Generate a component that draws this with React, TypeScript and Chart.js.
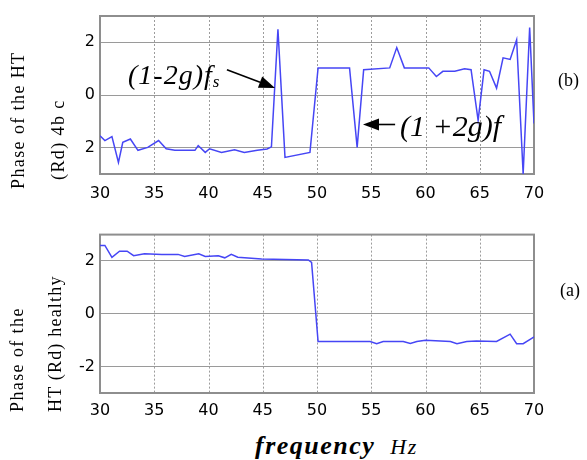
import React, { useEffect, useRef } from "react";
import { Chart, registerables } from "chart.js";

Chart.register(...registerables);

// ---- data ----
const xTickValues = [30, 35, 40, 45, 50, 55, 60, 65, 70];
const yTickValues = [-2, 0, 2];
const yTickLabelsB = ["2", "0", "2"]; // as printed in the reference (minus sign lost)
const yTickLabelsA = ["-2", "0", "2"];

// (b) faulty: phase of HT (Rd), 4 broken bars
const freqB = [
  30, 30.45, 31.1, 31.7, 32.1, 32.8, 33.5, 34.4, 35.4, 36.1,
  36.9, 38.75, 39.05, 39.7, 40.1, 41.2, 42.4, 43.3, 44.5, 45.4,
  45.8, 46.4, 47.05, 49.35, 50.1, 53.0, 53.7, 54.3, 56.7, 57.35,
  58.05, 60.3, 61.0, 61.6, 62.7, 63.6, 64.2, 64.85, 65.4, 65.9,
  66.55, 67.15, 67.8, 68.4, 69.0, 69.6, 70,
];
const phaseB = [
  -1.55, -1.73, -1.58, -2.56, -1.8, -1.67, -2.1, -1.99, -1.73, -2.04,
  -2.1, -2.1, -1.92, -2.18, -2.04, -2.18, -2.08, -2.18, -2.1, -2.05,
  -1.97, 2.5, -2.37, -2.18, 1.03, 1.03, -1.99, 0.96, 1.03, 1.8,
  1.03, 1.03, 0.7, 0.9, 0.9, 1.0, 0.96, -0.96, 0.96, 0.9,
  0.26, 1.41, 1.35, 2.1, -3.0, 2.56, -1.08,
];

// (a) healthy: phase of HT (Rd)
const freqA = [
  30, 30.45, 31.1, 31.8, 32.5, 33.1, 34.1, 35.7, 37.2, 37.8,
  39.1, 39.7, 40.9, 41.5, 42.1, 42.7, 44.9, 49.2, 49.5, 50.1,
  54.9, 55.5, 56.1, 57.95, 58.6, 59.2, 60.0, 62.3, 62.9, 63.8,
  64.7, 66.55, 67.8, 68.4, 69.0, 69.9, 70,
];
const phaseA = [
  2.59, 2.59, 2.14, 2.37, 2.37, 2.2, 2.27, 2.25, 2.25, 2.17,
  2.27, 2.17, 2.2, 2.12, 2.25, 2.14, 2.08, 2.04, 1.95, -1.05,
  -1.05, -1.13, -1.05, -1.05, -1.12, -1.05, -1.0, -1.05, -1.13, -1.05,
  -1.03, -1.05, -0.77, -1.13, -1.13, -0.9, -0.88,
];

// annotation arrows for (b), in data coordinates
const arrowsB = [
  { fromX: 41.7, fromY: 0.96, toX: 46.13, toY: 0.27 },
  { fromX: 57.2, fromY: -1.12, toX: 54.24, toY: -1.12 },
];

const LINE_COLOR = "rgb(70,70,245)";
const TICK_FONT = { family: "'DejaVu Sans', sans-serif", size: 16 };

// frame + dotted vertical grid (matlab style)
const framePlugin = {
  id: "frame",
  beforeDatasetsDraw(chart: any) {
    const { ctx, chartArea: a } = chart;
    const xs = chart.scales.x;
    ctx.save();
    ctx.strokeStyle = "#9c9c9c";
    ctx.lineWidth = 1;
    ctx.setLineDash([2, 2]);
    for (const v of xTickValues) {
      const px = Math.round(xs.getPixelForValue(v)) + 0.5;
      if (px <= a.left + 2 || px >= a.right - 2) continue;
      ctx.beginPath();
      ctx.moveTo(px, a.top);
      ctx.lineTo(px, a.bottom);
      ctx.stroke();
    }
    ctx.setLineDash([]);
    ctx.strokeStyle = "#8e8e8e";
    ctx.lineWidth = 2;
    ctx.strokeRect(a.left, a.top, a.right - a.left, a.bottom - a.top);
    ctx.restore();
  },
};

const arrowPlugin = {
  id: "arrows",
  afterDatasetsDraw(chart: any, _args: any, opts: any) {
    const list = (opts && opts.list) || [];
    const { ctx } = chart;
    const xs = chart.scales.x;
    const ys = chart.scales.y;
    ctx.save();
    ctx.strokeStyle = "#000";
    ctx.fillStyle = "#000";
    ctx.lineWidth = 1.6;
    for (const a of list) {
      const x1 = xs.getPixelForValue(a.fromX);
      const y1 = ys.getPixelForValue(a.fromY);
      const x2 = xs.getPixelForValue(a.toX);
      const y2 = ys.getPixelForValue(a.toY);
      const ang = Math.atan2(y2 - y1, x2 - x1);
      const hl = 16;
      const hw = 6;
      const bx = x2 - hl * Math.cos(ang);
      const by = y2 - hl * Math.sin(ang);
      ctx.beginPath();
      ctx.moveTo(x1, y1);
      ctx.lineTo(bx, by);
      ctx.stroke();
      ctx.beginPath();
      ctx.moveTo(x2, y2);
      ctx.lineTo(bx + hw * Math.sin(ang), by - hw * Math.cos(ang));
      ctx.lineTo(bx - hw * Math.sin(ang), by + hw * Math.cos(ang));
      ctx.closePath();
      ctx.fill();
    }
    ctx.restore();
  },
};

function buildConfig(freq: number[], phase: number[], yLabels: string[], topPad: number, tickPad: number, arrows: any[]) {
  return {
    type: "line" as const,
    data: {
      datasets: [
        {
          data: freq.map((x, i) => ({ x, y: phase[i] })),
          borderColor: LINE_COLOR,
          borderWidth: 1.5,
          pointRadius: 0,
          tension: 0,
          fill: false,
        },
      ],
    },
    options: {
      animation: false as const,
      responsive: false,
      events: [],
      layout: { padding: { left: 0, right: 53, top: topPad, bottom: 0 } },
      plugins: {
        legend: { display: false },
        tooltip: { enabled: false },
        arrows: { list: arrows },
      },
      scales: {
        x: {
          type: "linear" as const,
          min: 30,
          max: 70,
          afterBuildTicks: (s: any) => {
            s.ticks = xTickValues.map((v) => ({ value: v }));
          },
          afterFit: (s: any) => {
            s.height = 36;
          },
          grid: { display: false, drawTicks: false },
          border: { display: false },
          ticks: {
            color: "#000",
            font: TICK_FONT,
            padding: tickPad,
            maxRotation: 0,
            autoSkip: false,
            callback: (v: any) => String(v),
          },
        },
        y: {
          type: "linear" as const,
          min: -3,
          max: 3,
          afterBuildTicks: (s: any) => {
            s.ticks = yTickValues.map((v) => ({ value: v }));
          },
          afterFit: (s: any) => {
            s.width = 100;
          },
          grid: { color: "#9a9a9a", lineWidth: 1, drawTicks: false },
          border: { display: false },
          ticks: {
            color: "#000",
            font: TICK_FONT,
            padding: 5,
            callback: (v: any) => yLabels[yTickValues.indexOf(Number(v))],
          },
        },
      },
    },
    plugins: [framePlugin, arrowPlugin],
  };
}

function PhaseChart(props: { freq: number[]; phase: number[]; yLabels: string[]; topPad: number; tickPad: number; height: number; arrows: any[] }) {
  const ref = useRef<HTMLCanvasElement | null>(null);
  useEffect(() => {
    if (!ref.current) return;
    const chart = new Chart(ref.current, buildConfig(props.freq, props.phase, props.yLabels, props.topPad, props.tickPad, props.arrows) as any);
    return () => chart.destroy();
  }, []);
  return <canvas ref={ref} width={587} height={props.height} style={{ display: "block", width: 587, height: props.height }} />;
}

const serif = "'Liberation Serif', 'Times New Roman', serif";

function VLabel(props: { text: string; cx: number; bottom: number; size: number; spacing: number }) {
  const lh = props.size + 2;
  return (
    <div
      style={{
        position: "absolute",
        left: props.cx - lh / 2,
        top: props.bottom,
        lineHeight: lh + "px",
        fontSize: props.size,
        fontFamily: serif,
        letterSpacing: props.spacing,
        whiteSpace: "nowrap",
        transformOrigin: "0 0",
        transform: "rotate(-90deg)",
        color: "#000",
      }}
    >
      {props.text}
    </div>
  );
}

export default function App() {
  return (
    <div style={{ position: "absolute", left: 0, top: 0, width: 587, height: 460, background: "#fff", overflow: "hidden" }}>
      <div style={{ position: "absolute", left: 0, top: 0 }}>
        <PhaseChart freq={freqB} phase={phaseB} yLabels={yTickLabelsB} topPad={16} tickPad={10} height={210} arrows={arrowsB} />
      </div>
      <div style={{ position: "absolute", left: 0, top: 220 }}>
        <PhaseChart freq={freqA} phase={phaseA} yLabels={yTickLabelsA} topPad={14} tickPad={8} height={209} arrows={[]} />
      </div>

      <VLabel text="Phase of the HT" cx={18} bottom={189} size={18} spacing={1.4} />
      <VLabel text="(Rd) 4b c" cx={58} bottom={180} size={18} spacing={1.4} />
      <VLabel text="Phase of the" cx={17} bottom={412} size={18} spacing={1.4} />
      <VLabel text="HT (Rd) healthy" cx={55} bottom={412} size={18} spacing={1.2} />

      <div style={{ position: "absolute", left: 558, top: 69, fontFamily: serif, fontSize: 18, lineHeight: "22px" }}>(b)</div>
      <div style={{ position: "absolute", left: 560, top: 279, fontFamily: serif, fontSize: 18, lineHeight: "22px" }}>(a)</div>

      <div style={{ position: "absolute", left: 128, top: 61, fontFamily: serif, fontStyle: "italic", fontSize: 28, lineHeight: "28px", whiteSpace: "nowrap", letterSpacing: 1 }}>
        (1-2g)f<span style={{ fontSize: 17, verticalAlign: "-3px" }}>s</span>
      </div>
      <div style={{ position: "absolute", left: 400, top: 111, fontFamily: serif, fontStyle: "italic", fontSize: 30, lineHeight: "30px", whiteSpace: "nowrap" }}>
        (1 +2g)f
      </div>

      <div style={{ position: "absolute", left: 255, top: 431, fontFamily: serif, lineHeight: "30px", whiteSpace: "nowrap" }}>
        <span style={{ fontWeight: "bold", fontStyle: "italic", fontSize: 26, letterSpacing: 1.5 }}>frequency</span>
        <span style={{ fontStyle: "italic", fontSize: 22, letterSpacing: 1.5, marginLeft: 15 }}>Hz</span>
      </div>
    </div>
  );
}
